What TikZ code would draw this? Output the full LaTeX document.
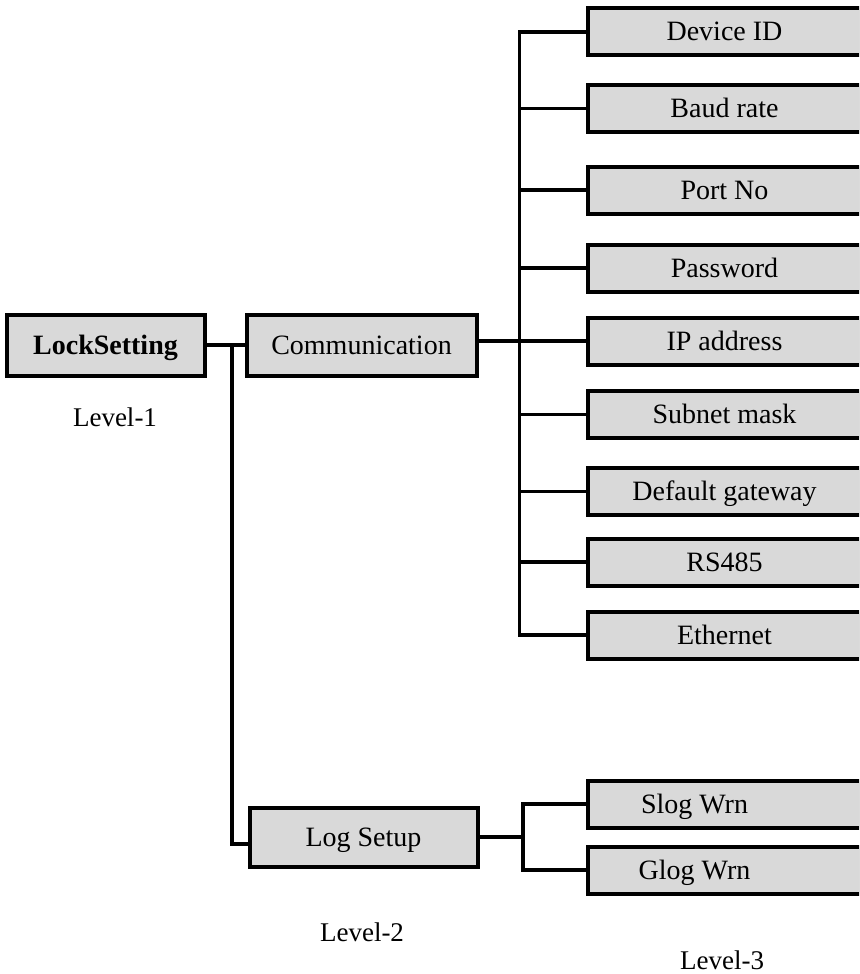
\documentclass[tikz,border=0pt]{standalone}
\usepackage{fontspec}
\setmainfont{Liberation Serif}
\definecolor{boxgray}{HTML}{D9D9D9}
\begin{document}
\begin{tikzpicture}[x=1pt,y=-1pt,
  box/.style={draw=black, line width=4pt, fill=boxgray, minimum height=47pt,
    inner sep=0pt, font=\fontsize{28}{33}\selectfont, text height=22pt, text depth=4pt},
  leaf/.style={box, minimum width=273pt},
  wire/.style={line width=3.5pt, line cap=rect, line join=miter},
  lvl/.style={font=\fontsize{27}{32}\selectfont, inner sep=0pt}]
\clip (0,0) rectangle (859,974);
\fill[white] (0,0) rectangle (859,974);
% level 1 and 2
\node[box, minimum width=198pt, minimum height=61pt, font=\fontsize{28}{33}\selectfont\bfseries] (lock) at (105.5,345) {LockSetting};
\node[box, minimum width=230pt, minimum height=61pt] (comm) at (361.5,345) {Communication};
\node[box, minimum width=228pt, minimum height=59pt] (logs) at (363.5,837) {Log Setup};
% level 3
\node[leaf] (dev)  at (724.5,32)    {Device ID};
\node[leaf] (baud) at (724.5,108.5) {Baud rate};
\node[leaf] (port) at (724.5,190)   {Port No};
\node[leaf] (pass) at (724.5,268)   {Password};
\node[leaf] (ip)   at (724.5,341)   {IP address};
\node[leaf] (sub)  at (724.5,414.5) {Subnet mask};
\node[leaf] (gw)   at (724.5,491.5) {Default gateway};
\node[leaf] (rs)   at (724.5,562)   {RS485};
\node[leaf] (eth)  at (724.5,635)   {Ethernet};
\node[leaf] (slog) at (724.5,804)   {\hspace*{-60pt}Slog Wrn};
\node[leaf] (glog) at (724.5,870)   {\hspace*{-60pt}Glog Wrn};
% labels
\node[lvl] (l1) at (115,417) {Level-1};
\node[lvl] (l2) at (362,932) {Level-2};
\node[lvl] (l3) at (722,960) {Level-3};
% bus coordinates
\coordinate (busA) at (232,0);
\coordinate (busB) at (519.5,0);
\coordinate (busC) at (523,0);
% level 1 -> level 2
\draw[wire] (lock.east) -- (comm.west);
\draw[wire] (lock.east -| busA) -- ([yshift=-7pt]logs.west -| busA) -- ([yshift=-7pt]logs.west);
% communication -> level 3
\draw[wire] (comm.east |- ip.west) -- (ip.west);
\draw[wire] (dev.west) -- (dev.west -| busB) -- (eth.west -| busB) -- (eth.west);
\foreach \n in {baud,port,pass,sub,gw,rs}
  \draw[wire] (\n.west) -- (\n.west -| busB);
% log setup -> level 3
\draw[wire] (logs.east) -- (logs.east -| busC);
\draw[wire] (slog.west) -- (slog.west -| busC) -- (glog.west -| busC) -- (glog.west);
\end{tikzpicture}
\end{document}
